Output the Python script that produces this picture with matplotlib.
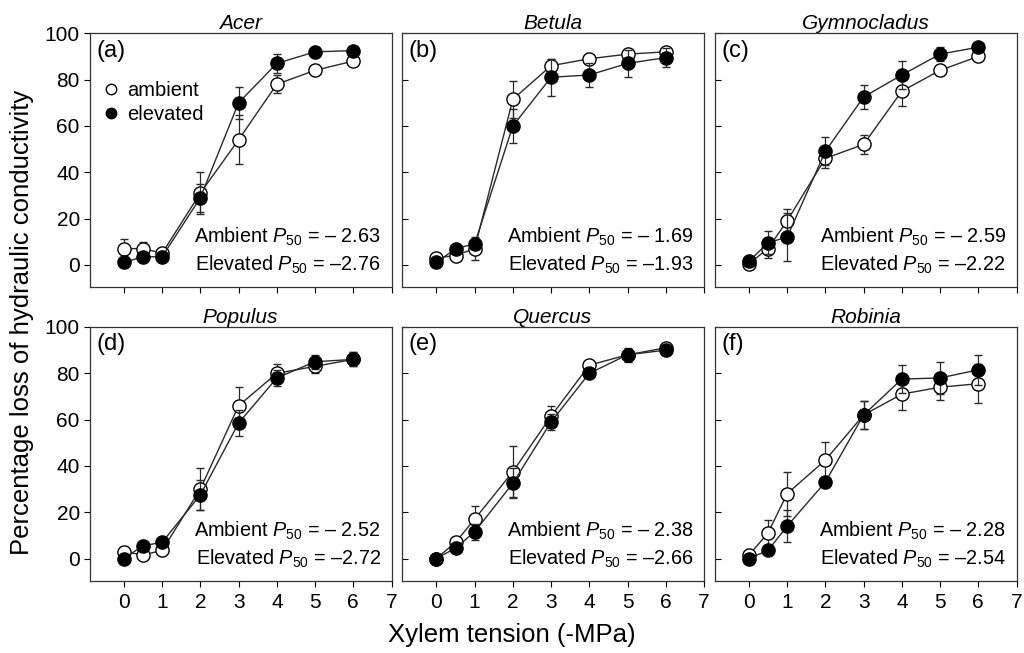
import numpy as np
import matplotlib
matplotlib.use("Agg")
import matplotlib.pyplot as plt
from matplotlib.lines import Line2D

plt.rcParams['font.family'] = ['Liberation Sans', 'DejaVu Sans']
plt.rcParams['mathtext.fontset'] = 'custom'
plt.rcParams['mathtext.rm'] = 'Liberation Sans'
plt.rcParams['mathtext.it'] = 'Liberation Sans:italic'

x = [0, 0.5, 1, 2, 3, 4, 5, 6]

species = ['Acer', 'Betula', 'Gymnocladus', 'Populus', 'Quercus', 'Robinia']
letters = ['(a)', '(b)', '(c)', '(d)', '(e)', '(f)']
p50_amb = ['– 2.63', '– 1.69', '– 2.59', '– 2.52', '– 2.38', '– 2.28']
p50_elev = ['–2.76', '–1.93', '–2.22', '–2.72', '–2.66', '–2.54']

amb = [
    [7, 7, 5, 31, 54, 78, 84, 88],
    [3, 4, 7, 71.5, 86, 89, 91, 92],
    [0.5, 7, 19, 46, 52, 75, 84, 90],
    [3, 1.5, 3.5, 30, 66, 80, 83, 86],
    [0, 7, 17, 37.5, 61.5, 83.5, 88, 91],
    [1.5, 11, 28, 42.5, 62, 71, 74, 75.5],
]
amb_err = [
    [4, 3, 1.5, 9, 10.5, 4, 1.5, 1.5],
    [2, 2, 5, 8, 3, 1.5, 2, 1.5],
    [1, 4, 5, 4, 4, 6.5, 2, 1],
    [1, 1, 1, 9, 8, 4, 3, 3],
    [1, 1.5, 5.5, 11, 4.5, 1.5, 3, 2],
    [1, 5.5, 9.5, 8, 6, 7, 5.5, 8.5],
]
elev = [
    [1, 3.5, 3.5, 29, 70, 87, 92, 92.5],
    [1, 7, 9, 60, 81, 82, 87, 89.5],
    [1.5, 9.5, 12, 49, 72.5, 82, 91, 94],
    [0, 5.5, 7, 27.5, 58.5, 78, 85, 86],
    [0, 4.5, 11.5, 32.5, 59, 80, 88, 90],
    [0, 3.5, 14, 33, 62, 77.5, 78, 81.5],
]
elev_err = [
    [1, 1, 1.5, 6, 7, 4, 1.5, 1.5],
    [1, 1.5, 2, 7.5, 8, 5, 6, 4],
    [1, 5, 10.5, 6, 5, 6, 3, 1.5],
    [1, 2, 1, 6.5, 5.5, 3.5, 3, 3],
    [1, 1.5, 3.5, 6.5, 3.5, 2, 2.5, 2],
    [1, 1, 7, 1, 6, 6, 7, 6.5],
]

W, H = 1024, 653
fig = plt.figure(figsize=(W / 100, H / 100), dpi=100)

lefts = [89.5, 402, 714.5]
tops = [33.3, 327]
pw, ph = 302, 253.5

lc = '#2a2a2a'
for i in range(6):
    r, c = divmod(i, 3)
    ax = fig.add_axes([lefts[c] / W, (H - tops[r] - ph) / H, pw / W, ph / H])
    ax.errorbar(x, amb[i], yerr=amb_err[i], fmt='-o', color=lc, mfc='white',
                mec='black', mew=1.0, ms=9.5, lw=1.0, elinewidth=0.9,
                capsize=3, capthick=0.9, zorder=3)
    ax.errorbar(x, elev[i], yerr=elev_err[i], fmt='-o', color=lc, mfc='black',
                mec='black', mew=1.0, ms=9.5, lw=1.0, elinewidth=0.9,
                capsize=3, capthick=0.9, zorder=4)
    ax.set_xlim(-0.9, 7)
    ax.set_ylim(-9.5, 100)
    ax.set_xticks(range(8))
    ax.set_yticks(range(0, 101, 20))
    for s in ax.spines.values():
        s.set_linewidth(0.9)
        s.set_color('#333333')
    ax.tick_params(axis='x', direction='out', length=4, width=0.8,
                   labelsize=15, pad=5, labelbottom=(r == 1))
    ax.tick_params(axis='y', direction='out' if c == 0 else 'in', length=4,
                   width=0.8, labelsize=15, pad=3, labelleft=(c == 0))
    ax.set_title(species[i], style='italic', fontsize=15, pad=3)
    ax.text(0.022, 0.975, letters[i], transform=ax.transAxes, ha='left',
            va='top', fontsize=17)
    ax.text(0.965, 0.172, 'Ambient $P_{50}$ = ' + p50_amb[i],
            transform=ax.transAxes, ha='right', va='baseline', fontsize=14.3)
    ax.text(0.965, 0.063, 'Elevated $P_{50}$ = ' + p50_elev[i],
            transform=ax.transAxes, ha='right', va='baseline', fontsize=14.3)
    if i == 0:
        handles = [
            Line2D([], [], ls='none', marker='o', mfc='white', mec='black',
                   mew=1.0, ms=7.5),
            Line2D([], [], ls='none', marker='o', mfc='black', mec='black',
                   mew=1.0, ms=7.5),
        ]
        ax.legend(handles, ['ambient', 'elevated'], loc='upper left',
                  bbox_to_anchor=(-0.01, 0.885), frameon=False, fontsize=14.5,
                  handlelength=0.6, handletextpad=0.5, labelspacing=0.25)

fig.text(22 / W, 1 - 322 / H, 'Percentage loss of hydraulic conductivity',
         rotation=90, ha='center', va='center', fontsize=18.5)
fig.text(512 / W, 1 - 635 / H, 'Xylem tension (-MPa)', ha='center',
         va='center', fontsize=18.5)

fig.savefig('out.png', dpi=100)
